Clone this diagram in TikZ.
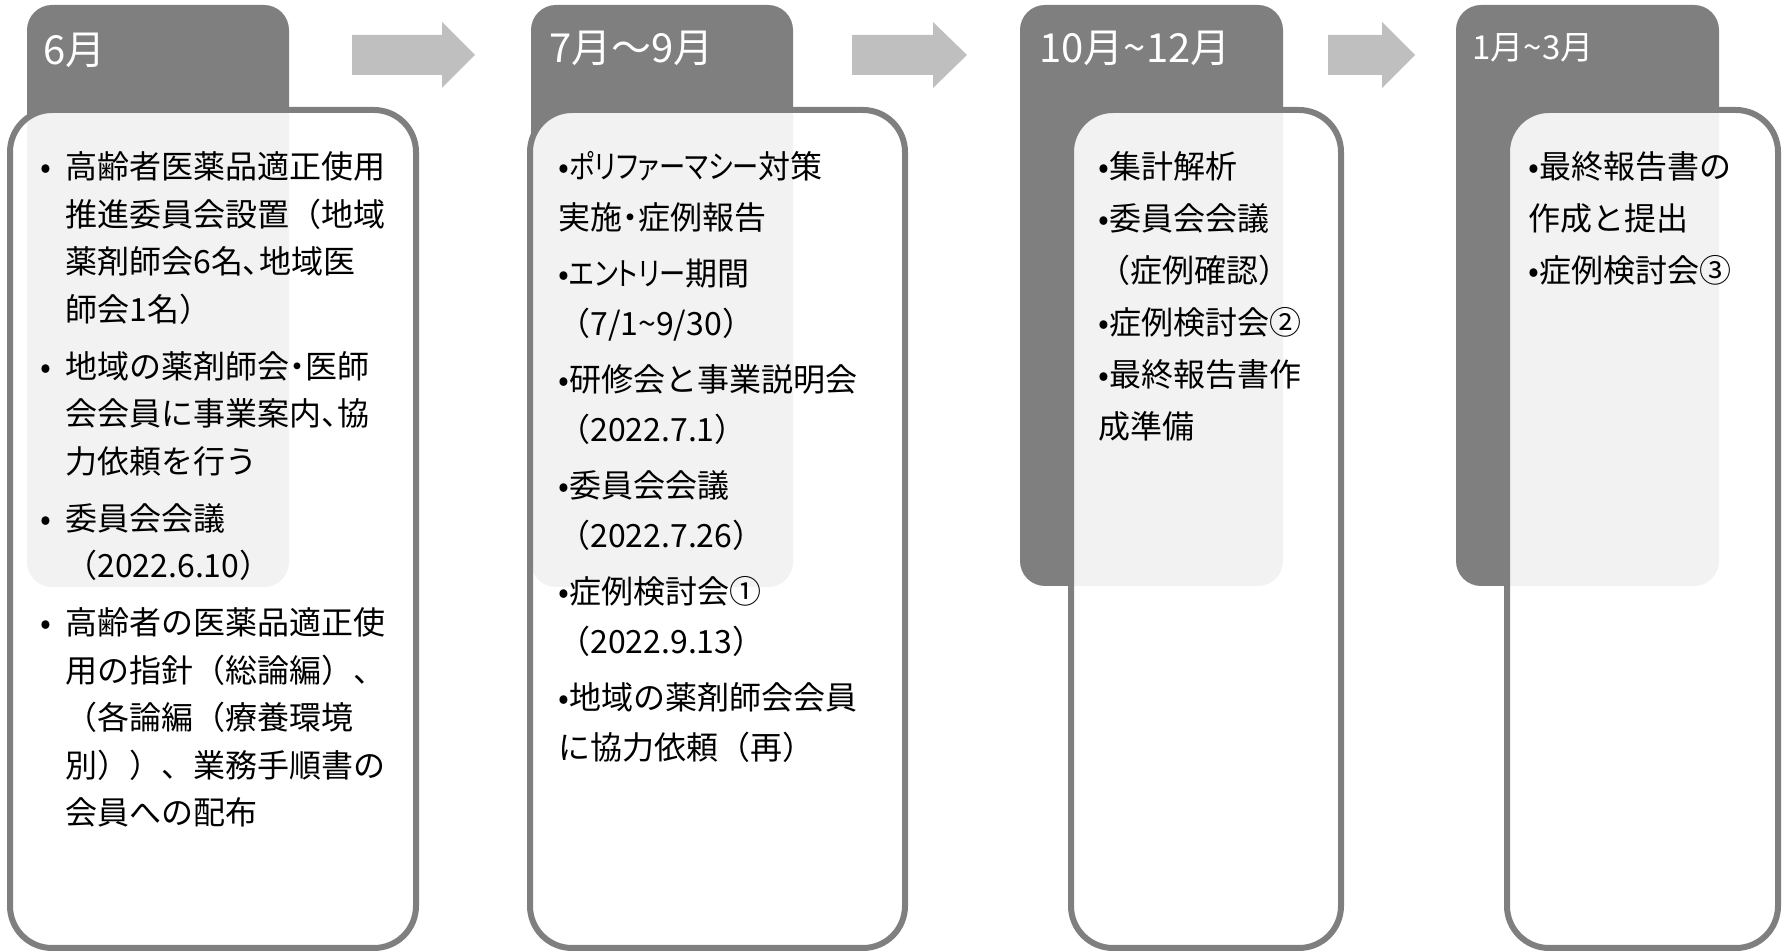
\documentclass[tikz,border=0pt]{standalone}
\usepackage{graphicx}
\usepackage{fontspec}
\setmainfont{Noto Sans CJK JP}
\newcommand{\pal}[1]{{\addfontfeature{RawFeature=+palt}#1}}
\newcommand{\kana}[1]{\scalebox{0.82}[1]{\pal{#1}}}
\newcommand{\tl}{\textasciitilde}
\definecolor{hdrgray}{HTML}{7F7F7F}
\definecolor{arrowgray}{HTML}{BFBFBF}
\tikzset{
  hdrbox/.style={fill=hdrgray, rounded corners=12.5pt},
  panel/.style={draw=hdrgray, line width=3pt, fill=white, fill opacity=0.9, rounded corners=21pt},
  blockarrow/.style={fill=arrowgray},
  hdrtext/.style={text=white, font=\fontsize{20}{24}\selectfont, inner sep=0pt, anchor=base west},
  bodytext/.style={text=black, inner sep=0pt, anchor=base west},
}
\begin{document}
\begin{tikzpicture}[x=0.5pt,y=-0.5pt]
\useasboundingbox (0,0) rectangle (1785,951);
% dark header boxes
\path[hdrbox] (27,5) rectangle (289,587);
\path[hdrbox] (531,5) rectangle (793,587);
\path[hdrbox] (1020,5) rectangle (1283,586);
\path[hdrbox] (1456,5) rectangle (1719,586);
% block arrows
\path[blockarrow] (352,35) -- (442,35) -- (442,22) -- (475,55) -- (442,88) -- (442,75) -- (352,75) -- cycle;
\path[blockarrow] (852,35) -- (933,35) -- (933,22) -- (967,55) -- (933,88) -- (933,75) -- (852,75) -- cycle;
\path[blockarrow] (1328,35) -- (1382,35) -- (1382,22) -- (1415,55) -- (1382,88) -- (1382,75) -- (1328,75) -- cycle;
% panels
\draw[panel] (10,110) rectangle (416,948);
\draw[panel] (530,110) rectangle (905,948);
\draw[panel] (1071,110) rectangle (1341,948);
\draw[panel] (1507,110) rectangle (1778,948);
% header texts
\node[hdrtext] (h1) at (43,65) {6月};
\node[hdrtext] (h2) at (549,63) {7月～9月};
\node[hdrtext] (h3) at (1039,63) {10月\tl12月};
\node[hdrtext, font=\fontsize{16.5}{20}\selectfont] (h4) at (1472,60) {1月\tl3月};
% body texts
\node[bodytext, font=\fontsize{16}{23.75}\selectfont] (b1) at (40,179) {%
\begin{tabular}[t]{@{}p{12.5pt}@{}l@{}}
• & 高齢者医薬品適正使用\\
  & 推進委員会設置（地域\\
  & 薬剤師会6名\pal{、}地域医\\
  & 師会1名）\\[4.75pt]
• & 地域の薬剤師会\pal{・}医師\\
  & 会会員に事業案内\pal{、}協\\
  & 力依頼を行う\\[4.75pt]
• & 委員会会議\\
  & （2022.6.10）\\[4.75pt]
• & 高齢者の医薬品適正使\\
  & 用の指針（総論編）、\\
  & （各論編（療養環境\\
  & 別））、業務手順書の\\
  & 会員への配布
\end{tabular}};
\node[bodytext, font=\fontsize{16}{25.15}\selectfont] (b2) at (558,179) {%
\begin{tabular}[t]{@{}l@{}}
•\kana{ポリファーマシー}対策\\
実施\pal{・}症例報告\\[2.75pt]
•\kana{エントリー}期間\\
（7/1\tl9/30）\\[2.75pt]
•研修会と事業説明会\\
（2022.7.1）\\[2.75pt]
•委員会会議\\
（2022.7.26）\\[2.75pt]
•症例検討会①\\
（2022.9.13）\\[2.75pt]
•地域の薬剤師会会員\\
に協力依頼（再）
\end{tabular}};
\node[bodytext, font=\fontsize{16}{26}\selectfont] (b3) at (1098,179) {%
\begin{tabular}[t]{@{}l@{}}
•集計解析\\
•委員会会議\\
（症例確認）\\
•症例検討会②\\
•最終報告書作\\
成準備
\end{tabular}};
\node[bodytext, font=\fontsize{16}{26}\selectfont] (b4) at (1528,179) {%
\begin{tabular}[t]{@{}l@{}}
•最終報告書の\\
作成と提出\\
•症例検討会③
\end{tabular}};
\end{tikzpicture}
\end{document}
